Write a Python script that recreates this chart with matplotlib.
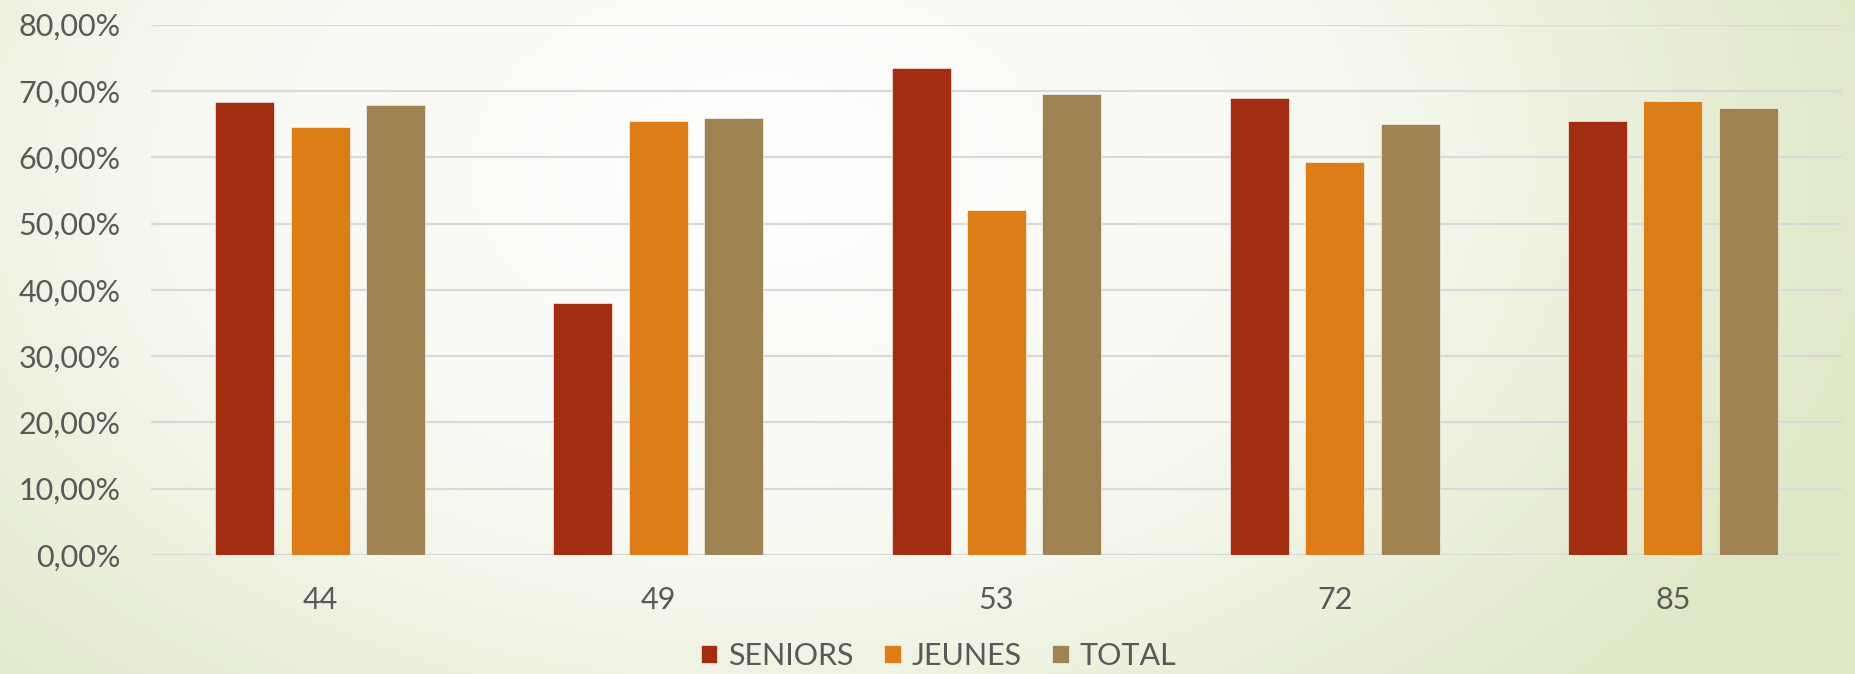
import matplotlib
matplotlib.use("Agg")
import matplotlib.pyplot as plt
import numpy as np
from matplotlib.colors import LinearSegmentedColormap
from matplotlib.ticker import FuncFormatter

# Data
categories = ['44', '49', '53', '72', '85']
seniors = [0.684, 0.380, 0.735, 0.690, 0.654]
jeunes = [0.646, 0.655, 0.520, 0.593, 0.685]
total = [0.679, 0.660, 0.695, 0.650, 0.675]
series_names = ['SENIORS', 'JEUNES', 'TOTAL']
colors = ['#A32D10', '#DD7D18', '#9F8352']
y_ticks = [0, 0.1, 0.2, 0.3, 0.4, 0.5, 0.6, 0.7, 0.8]

plt.rcParams['font.family'] = ['Lato', 'DejaVu Sans']
text_color = '#595959'

W, H = 1855, 674
fig = plt.figure(figsize=(W / 100, H / 100), dpi=100)

# radial background: white centre, pale green edges
bg = fig.add_axes([0, 0, 1, 1], zorder=-10)
yy, xx = np.mgrid[0:H, 0:W]
r = np.sqrt(((xx - 760) / 1150.0) ** 2 + ((yy - 170) / 760.0) ** 2)
r = np.clip(r, 0, 1)
cmap = LinearSegmentedColormap.from_list('bg', ['#ffffff', '#f7f9f1', '#dfe8c6'])
bg.imshow(r, cmap=cmap, vmin=0, vmax=1, aspect='auto', interpolation='bilinear')
bg.axis('off')

ax = fig.add_axes([151 / W, 1 - 555 / H, (1842 - 151) / W, (555 - 24.7) / H])
ax.patch.set_alpha(0)

x = np.arange(len(categories))
width = 0.1745
step = 0.223
for i, (vals, name, col) in enumerate(zip([seniors, jeunes, total], series_names, colors)):
    ax.bar(x + (i - 1) * step, vals, width, color=col, label=name,
           edgecolor='#ffffff', linewidth=0.4, zorder=3)

ax.set_xlim(-0.5, len(categories) - 0.5)
ax.set_ylim(0, 0.8)
ax.set_yticks(y_ticks)
ax.yaxis.set_major_formatter(FuncFormatter(lambda v, p: f'{v * 100:.2f}%'.replace('.', ',')))
ax.set_xticks(x)
ax.set_xticklabels(categories)
ax.grid(axis='y', color='#d9d9d9', linewidth=1.6, zorder=0)
for s in ax.spines.values():
    s.set_visible(False)
ax.tick_params(axis='both', length=0, labelsize=22, colors=text_color)
ax.tick_params(axis='y', pad=22)
ax.tick_params(axis='x', pad=22)

leg = fig.legend(loc='center', bbox_to_anchor=(0.506, 1 - 656 / H), ncol=3, frameon=False,
                 fontsize=22, handlelength=0.55, handleheight=0.55, handletextpad=0.35,
                 columnspacing=1.0, labelcolor=text_color)

fig.savefig('out.png', dpi=100)
